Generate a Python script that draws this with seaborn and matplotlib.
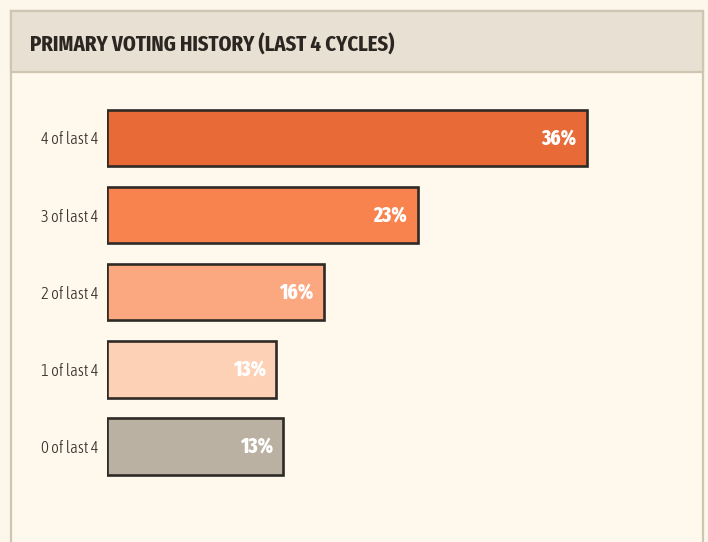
import matplotlib
matplotlib.use("Agg")
import os
import matplotlib.pyplot as plt
import seaborn as sns
import pandas as pd
from matplotlib.patches import Rectangle
from matplotlib import font_manager as fm

categories = ["4 of last 4", "3 of last 4", "2 of last 4", "1 of last 4", "0 of last 4"]
values = [35.7, 23.1, 16.1, 12.6, 13.1]
labels = ["36%", "23%", "16%", "13%", "13%"]
colors = ["#e86a36", "#f9834e", "#fba77f", "#fdd1b6", "#bab1a3"]
title = "PRIMARY VOTING HISTORY (LAST 4 CYCLES)"

sns.set_theme(style="white")
plt.rcParams['font.family'] = ['DejaVu Sans']

def _wnum(w):
    if isinstance(w, int):
        return w
    return {"ultralight": 200, "light": 300, "normal": 400, "regular": 400, "book": 400,
            "medium": 500, "semibold": 600, "demibold": 600, "demi": 600, "bold": 700,
            "heavy": 800, "extra bold": 800, "black": 900}.get(str(w), 400)

def _cond(f):
    n = (os.path.basename(f.fname) + " " + f.name).lower().replace(" ", "").replace("-", "")
    if "ultracondensed" in n or "extracondensed" in n:
        return 3
    if "semicondensed" in n:
        return 1
    if "condensed" in n or "narrow" in n or f.stretch not in ("normal", 500):
        return 2
    return 0

cands = [f for f in fm.fontManager.ttflist if f.style == "normal"]

def pick(target_w, target_c):
    best = None
    for f in cands:
        c = _cond(f)
        if c == 0:
            continue
        w = _wnum(f.weight)
        score = -abs(c - target_c) * 1000 - abs(w - target_w)
        if best is None or score > best[0]:
            best = (score, f.fname)
    return best[1] if best else None

def fprop(path, fallback_weight):
    if path:
        return fm.FontProperties(fname=path)
    return fm.FontProperties(family="DejaVu Sans", weight=fallback_weight)

fp_title = fprop(pick(750, 3), "bold")
fp_val = fprop(pick(800, 3), "bold")
fp_tick = fprop(pick(330, 2), "normal")

W, H = 708, 542
fig = plt.figure(figsize=(W / 100, H / 100), dpi=100)
fig.patch.set_facecolor("#fdf6ea")
renderer = fig.canvas.get_renderer()

def fit(text_obj, target_w, max_size):
    text_obj.set_fontsize(max_size)
    w = text_obj.get_window_extent(renderer).width
    if w > target_w:
        text_obj.set_fontsize(max_size * target_w / w)

def px(x0, y0, w, h):
    return (x0 / W, 1 - (y0 + h) / H, w / W, h / H)

bg = fig.add_axes([0, 0, 1, 1])
bg.set_xlim(0, W)
bg.set_ylim(H, 0)
bg.axis("off")
bg.add_patch(Rectangle((10.5, 11), 692, 540, facecolor="#fff8ec", edgecolor="#cfc5b3", lw=1.6))
bg.add_patch(Rectangle((10.5, 11), 692, 61, facecolor="#e8e0d2", edgecolor="#cfc5b3", lw=1.6))
t = bg.text(30, 52, title, color="#2b2622", ha="left", va="baseline", fontproperties=fp_title.copy())
fit(t, 365, 24)

df = pd.DataFrame({"category": categories, "value": values})
ax = fig.add_axes(px(107, 99.4, 580, 385.7))
ax.set_facecolor("none")
sns.barplot(data=df, y="category", x="value", hue="category", palette=colors,
            order=categories, hue_order=categories, orient="h", legend=False,
            width=0.73, edgecolor="#2e2a26", linewidth=1.9, ax=ax, saturation=1)
ax.set_xlim(0, 580 / 13.45)
ax.set_ylim(4.5, -0.5)
for s in ax.spines.values():
    s.set_visible(False)
ax.set_xticks([])
ax.set_xlabel("")
ax.set_ylabel("")
ax.tick_params(axis="y", length=0, pad=6, labelcolor="#3a3530")
for tl in ax.get_yticklabels():
    tl.set_fontproperties(fp_tick.copy())
    fit(tl, 60, 12)

bars = [p for c in ax.containers for p in c]
for p, lab in zip(bars, labels):
    x = p.get_x() + p.get_width()
    y = p.get_y() + p.get_height() / 2
    a = ax.annotate(lab, (x, y), xytext=(-7.5, 0), textcoords="offset points",
                    ha="right", va="center", color="white", fontproperties=fp_val.copy())
    fit(a, 37, 15)

fig.savefig("out.png", dpi=100, facecolor=fig.get_facecolor())
